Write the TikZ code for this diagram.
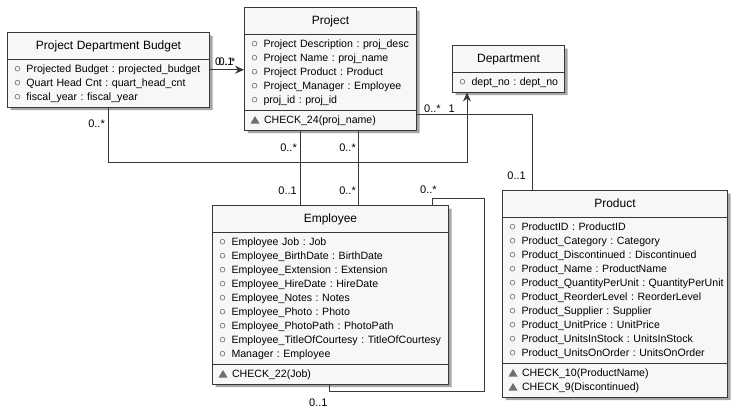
\documentclass[tikz,border=0pt]{standalone}
\usepackage{fontspec}
\setmainfont{Liberation Sans}
\usetikzlibrary{shapes.multipart,shadows,arrows.meta}

\definecolor{umlline}{HTML}{383838}
\definecolor{umlfill}{HTML}{F7F7F7}
\definecolor{umlmark}{HTML}{6E6E6E}

\frenchspacing
\newcommand{\lnstrut}{\rule[-3.5pt]{0pt}{14pt}}
\newcommand{\ttl}[1]{\hfill{\fontsize{12}{14}\selectfont\rule[-6.5pt]{0pt}{20.5pt}#1}\hfill\null}
\newcommand{\fld}[1]{\tikz[baseline=0pt,x=1pt,y=1pt]{\path (0,0) (13,1); \draw[umlmark,line width=.6pt] (4,3.8) circle (2.4);}\mbox{#1}\lnstrut\par}
\newcommand{\mth}[1]{\tikz[baseline=0pt,x=1pt,y=1pt]{\path (0,0) (13,1); \fill[umlmark] (-0.5,0) -- (8.5,0) -- (4,7.5) -- cycle;}\mbox{#1}\lnstrut\par}

\tikzset{
  umlclass/.style 2 args={rectangle split, rectangle split parts=#1, text width=#2pt,
    draw=umlline, line width=1pt, fill=umlfill, inner xsep=6pt, inner ysep=2.5pt,
    anchor=north west, align=left, font=\fontsize{10.6}{14}\selectfont,
    drop shadow={shadow xshift=3pt, shadow yshift=-3pt, opacity=.35, fill=black}},
  link/.style={draw=umlline, line width=.8pt},
  arr/.style={link, -{Stealth[length=9pt,width=8pt,inset=3pt]}},
  mult/.style={font=\fontsize{11}{13}\selectfont, inner sep=0pt, text=black}
}

\begin{document}
\begin{tikzpicture}[x=1pt,y=-1pt]
  \useasboundingbox (0,0) rectangle (740,413);

  % classes
  \node[umlclass={2}{190}] (pdb) at (7,32) {\ttl{Project Department Budget}
    \nodepart{second}
    \fld{Projected Budget : projected\_budget}
    \fld{Quart Head Cnt : quart\_head\_cnt}
    \fld{fiscal\_year : fiscal\_year}};

  \node[umlclass={3}{160}] (proj) at (244,7) {\ttl{Project}
    \nodepart{second}
    \fld{Project Description : proj\_desc}
    \fld{Project Name : proj\_name}
    \fld{Project Product : Product}
    \fld{Project\_Manager : Employee}
    \fld{proj\_id : proj\_id}
    \nodepart{third}
    \mth{CHECK\_24(proj\_name)}};

  \node[umlclass={2}{100}] (dept) at (452,45) {\ttl{Department}
    \nodepart{second}
    \fld{dept\_no : dept\_no}};

  \node[umlclass={3}{224}] (emp) at (212,205) {\ttl{Employee}
    \nodepart{second}
    \fld{Employee Job : Job}
    \fld{Employee\_BirthDate : BirthDate}
    \fld{Employee\_Extension : Extension}
    \fld{Employee\_HireDate : HireDate}
    \fld{Employee\_Notes : Notes}
    \fld{Employee\_Photo : Photo}
    \fld{Employee\_PhotoPath : PhotoPath}
    \fld{Employee\_TitleOfCourtesy : TitleOfCourtesy}
    \fld{Manager : Employee}
    \nodepart{third}
    \mth{CHECK\_22(Job)}};

  \node[umlclass={3}{213}] (prod) at (502,190) {\ttl{Product}
    \nodepart{second}
    \fld{ProductID : ProductID}
    \fld{Product\_Category : Category}
    \fld{Product\_Discontinued : Discontinued}
    \fld{Product\_Name : ProductName}
    \fld{Product\_QuantityPerUnit : QuantityPerUnit}
    \fld{Product\_ReorderLevel : ReorderLevel}
    \fld{Product\_Supplier : Supplier}
    \fld{Product\_UnitPrice : UnitPrice}
    \fld{Product\_UnitsInStock : UnitsInStock}
    \fld{Product\_UnitsOnOrder : UnitsOnOrder}
    \nodepart{third}
    \mth{CHECK\_10(ProductName)}
    \mth{CHECK\_9(Discontinued)}};

  % associations
  \draw[arr] (pdb.east) -- (pdb.east -| proj.west);
  \draw[arr] (pdb.south) -- ++(0,55) -| ([xshift=15pt]dept.south west);
  \draw[link] ([xshift=56pt]proj.south west) -- ([xshift=56pt]proj.south west |- emp.north);
  \draw[link] ([xshift=114pt]proj.south west) -- ([xshift=114pt]proj.south west |- emp.north);
  \draw[link] ([yshift=16pt]proj.south east) -| ([xshift=30pt]prod.north west);
  \draw[link] ([xshift=220pt]emp.north west) -- ++(0,-7) -- ++(52,0)
    |- ([xshift=117pt,yshift=-7pt]emp.south west) -- ([xshift=117pt]emp.south west);

  % multiplicities
  \node[mult, anchor=base west] (m1) at (215,65) {0..1};
  \node[mult, anchor=base west] (m2) at (218.5,65) {0..*};
  \node[mult, anchor=base east] (m3) at (105,127) {0..*};
  \node[mult, anchor=base east] (m4) at (455,112) {1};
  \node[mult, anchor=base east] (m5) at (297,151) {0..*};
  \node[mult, anchor=base east] (m6) at (297,194) {0..1};
  \node[mult, anchor=base east] (m7) at (356,151) {0..*};
  \node[mult, anchor=base east] (m8) at (356,194) {0..*};
  \node[mult, anchor=base west] (m9) at (424,112) {0..*};
  \node[mult, anchor=base east] (m10) at (526,179) {0..1};
  \node[mult, anchor=base west] (m11) at (420,193) {0..*};
  \node[mult, anchor=base west] (m12) at (309,406) {0..1};
\end{tikzpicture}
\end{document}
